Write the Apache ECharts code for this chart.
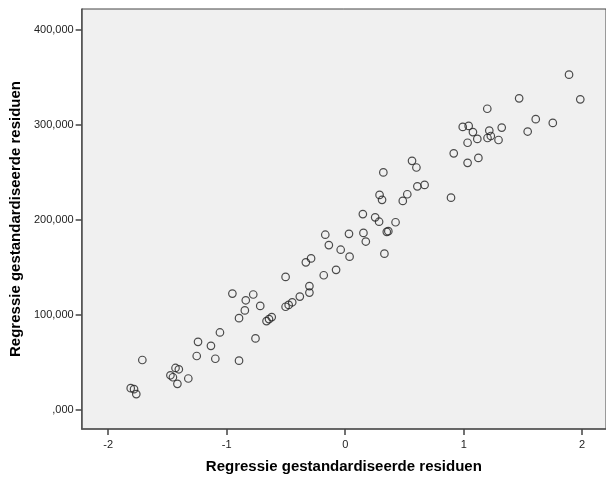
<!DOCTYPE html>
<html>
<head>
<meta charset="utf-8">
<script src="https://cdn.jsdelivr.net/npm/echarts@6/dist/echarts.min.js"></script>
<style>html,body{margin:0;padding:0;background:#fff}#c{width:606px;height:479px}</style>
</head>
<body>
<div id="c"></div>
<script>
const xValues = [-1.712,-1.810,-1.782,-1.763,-1.432,-1.404,-1.475,-1.454,-1.416,-1.324,
  -1.242,-1.253,-1.133,-1.096,-1.057,-0.896,-0.847,-0.839,-0.757,-0.896,
  -0.952,-0.776,-0.717,-0.664,-0.643,-0.620,-0.503,-0.503,-0.477,-0.447,
  -0.383,-0.302,-0.302,-0.332,-0.288,-0.181,-0.168,-0.138,-0.077,-0.038,
  0.037,0.032,0.149,0.154,0.174,0.253,0.286,0.351,0.364,0.425,
  0.331,0.322,0.290,0.311,0.486,0.524,0.564,0.601,0.609,0.670,
  0.893,0.916,1.033,1.124,1.033,0.992,1.042,1.078,1.115,1.199,
  1.216,1.201,1.229,1.294,1.321,1.468,1.889,1.984,1.608,1.752,1.540];
const yValues = [52200,22500,21500,16300,43800,42400,36100,34000,27100,32700,
  71300,56400,67100,53500,81200,96300,104400,115100,74900,51500,
  122200,121200,109200,93200,95300,97400,139700,108300,110200,113000,
  119000,130100,123200,155100,159200,141500,184200,173300,147200,168400,
  161100,185100,205900,186100,177000,202500,197900,187200,187900,197300,
  164200,249800,226100,220900,219800,226800,262000,255000,235200,236700,
  223200,269900,259900,265100,281100,297800,298800,292300,285100,316900,
  293900,286100,288200,284000,297100,327900,352800,326800,305900,302000,292900];
const xTickValues = [-2,-1,0,1,2];
const xTickLabels = ['-2','-1','0','1','2'];
const yTickValues = [0,100000,200000,300000,400000];
const yTickLabels = [',000','100,000','200,000','300,000','400,000'];
const xTitle = 'Regressie gestandardiseerde residuen';
const yTitle = 'Regressie gestandardiseerde residuen';

const points = xValues.map((x,i)=>[x,yValues[i]]);
const chart = echarts.init(document.getElementById('c'), null, {renderer:'canvas'});
const font = '"Liberation Sans", Arial, sans-serif';
chart.setOption({
  animation:false,
  backgroundColor:'#ffffff',
  grid:{left:80,right:-1,top:9,bottom:46,show:true,backgroundColor:'#f0f0f0',borderColor:'#444',borderWidth:1},
  xAxis:{
    type:'value', min:-2.224, max:2.201,
    name:xTitle, nameLocation:'middle', nameGap:30,
    nameTextStyle:{fontFamily:font,fontSize:15,fontWeight:'bold',color:'#000'},
    axisLine:{show:true,onZero:false,lineStyle:{color:'#555',width:1.5}},
    axisTick:{show:true,length:6,customValues:xTickValues,lineStyle:{color:'#444',width:1.5}},
    axisLabel:{customValues:xTickValues,margin:10,fontFamily:font,fontSize:11,color:'#222',
      formatter:v=>{const i=xTickValues.indexOf(v);return i>=0?xTickLabels[i]:'';}},
    splitLine:{show:false}
  },
  yAxis:{
    type:'value', min:-20500, max:422000,
    name:yTitle, nameLocation:'middle', nameGap:51, nameRotate:90,
    nameTextStyle:{fontFamily:font,fontSize:15,fontWeight:'bold',color:'#000'},
    axisLine:{show:true,onZero:false,lineStyle:{color:'#555',width:1.5}},
    axisTick:{show:true,length:6,customValues:yTickValues,lineStyle:{color:'#444',width:1.5}},
    axisLabel:{customValues:yTickValues,margin:8,fontFamily:font,fontSize:11,color:'#222',
      formatter:v=>{const i=yTickValues.indexOf(v);return i>=0?yTickLabels[i]:'';}},
    splitLine:{show:false}
  },
  series:[{
    type:'scatter', data:points, symbol:'circle', symbolSize:7.5,
    itemStyle:{color:'rgba(0,0,0,0)',borderColor:'#222',borderWidth:1.2},
    emphasis:{disabled:true}
  }]
});
</script>
</body>
</html>
